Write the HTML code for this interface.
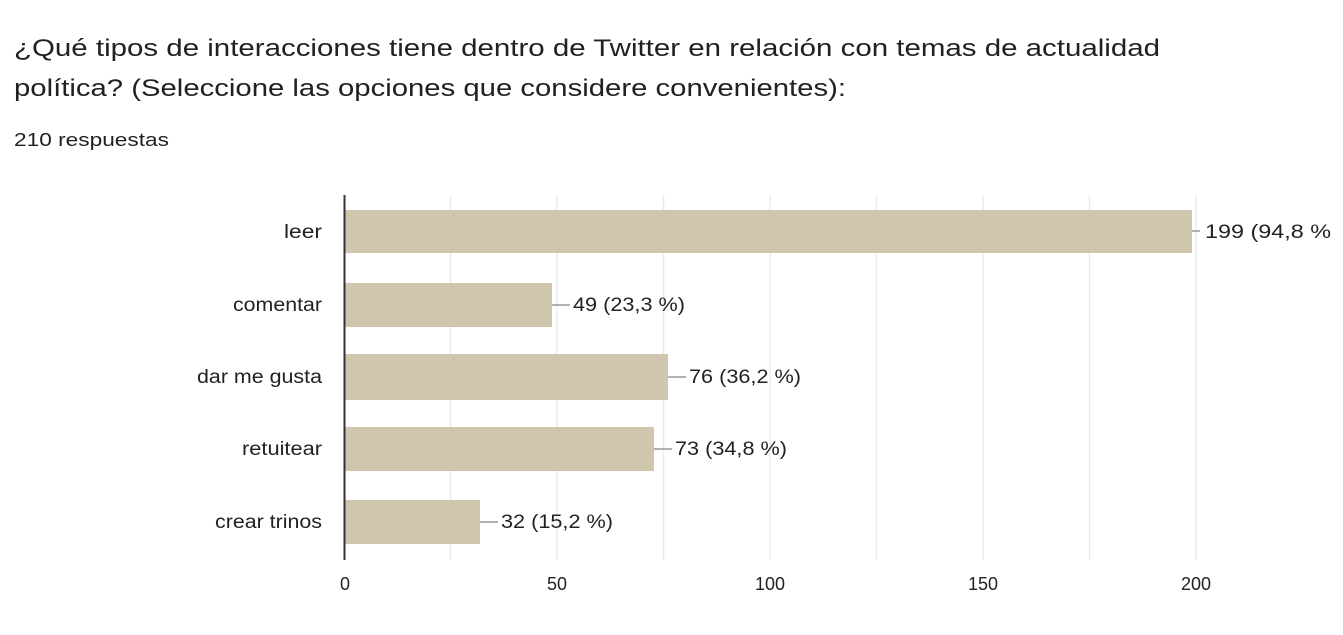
<!DOCTYPE html>
<html><head><meta charset="utf-8"><style>
body{margin:0;background:#fff;width:1343px;height:630px;overflow:hidden;font-family:"Liberation Sans",Arial,sans-serif}
</style></head><body>
<svg width="1343" height="630" xmlns="http://www.w3.org/2000/svg" font-family="Liberation Sans, Arial, sans-serif">
<text x="14" y="56" font-size="24" fill="#202124" textLength="1146" lengthAdjust="spacingAndGlyphs">¿Qué tipos de interacciones tiene dentro de Twitter en relación con temas de actualidad</text>
<text x="14" y="96" font-size="24" fill="#202124" textLength="832" lengthAdjust="spacingAndGlyphs">política? (Seleccione las opciones que considere convenientes):</text>
<text x="14" y="146" font-size="18" fill="#202124" textLength="155" lengthAdjust="spacingAndGlyphs">210 respuestas</text>
<g stroke="#ebebeb" stroke-width="1.5">
<line x1="450.5" y1="195" x2="450.5" y2="560"/><line x1="557" y1="195" x2="557" y2="560"/>
<line x1="663.5" y1="195" x2="663.5" y2="560"/><line x1="770" y1="195" x2="770" y2="560"/>
<line x1="876.5" y1="195" x2="876.5" y2="560"/><line x1="983" y1="195" x2="983" y2="560"/>
<line x1="1089.5" y1="195" x2="1089.5" y2="560"/><line x1="1196" y1="195" x2="1196" y2="560"/>
</g>
<g fill="#d0c6ad">
<rect x="345" y="210" width="847" height="43"/>
<rect x="345" y="283" width="207" height="44"/>
<rect x="345" y="354" width="323" height="46"/>
<rect x="345" y="427" width="309" height="44"/>
<rect x="345" y="500" width="135" height="44"/>
</g>
<line x1="344.5" y1="195" x2="344.5" y2="560" stroke="#333" stroke-width="2"/>
<g stroke="#999" stroke-width="1.5">
<line x1="1192" y1="231" x2="1200" y2="231"/><line x1="552" y1="305" x2="570" y2="305"/>
<line x1="668" y1="377" x2="686" y2="377"/><line x1="654" y1="449" x2="672" y2="449"/>
<line x1="480" y1="522" x2="498" y2="522"/>
</g>
<g font-size="19" fill="#222">
<text x="1205" y="238" textLength="126" lengthAdjust="spacingAndGlyphs">199 (94,8 %</text>
<text x="573" y="311" textLength="112" lengthAdjust="spacingAndGlyphs">49 (23,3 %)</text>
<text x="689" y="383" textLength="112" lengthAdjust="spacingAndGlyphs">76 (36,2 %)</text>
<text x="675" y="455" textLength="112" lengthAdjust="spacingAndGlyphs">73 (34,8 %)</text>
<text x="501" y="528" textLength="112" lengthAdjust="spacingAndGlyphs">32 (15,2 %)</text>
</g>
<g font-size="19" fill="#222" text-anchor="end">
<text x="322" y="238" textLength="38" lengthAdjust="spacingAndGlyphs">leer</text>
<text x="322" y="311" textLength="89" lengthAdjust="spacingAndGlyphs">comentar</text>
<text x="322" y="383" textLength="125" lengthAdjust="spacingAndGlyphs">dar me gusta</text>
<text x="322" y="455" textLength="80" lengthAdjust="spacingAndGlyphs">retuitear</text>
<text x="322" y="528" textLength="107" lengthAdjust="spacingAndGlyphs">crear trinos</text>
</g>
<g font-size="18" fill="#222" text-anchor="middle">
<text x="345" y="590">0</text><text x="557" y="590">50</text><text x="770" y="590">100</text>
<text x="983" y="590">150</text><text x="1196" y="590">200</text>
</g>
</svg>
</body></html>
